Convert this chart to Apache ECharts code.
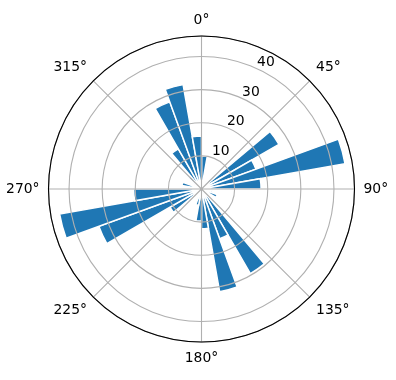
<!DOCTYPE html>
<html><head><meta charset="utf-8">
<script src="https://cdn.jsdelivr.net/npm/echarts@6/dist/echarts.min.js"></script>
<style>html,body{margin:0;padding:0;background:#fff}#c{width:396px;height:380px}</style>
</head><body><div id="c"></div>
<script>
// 36 direction sectors, 10 degrees each, clockwise from north
const sectors = ['0-10','10-20','20-30','30-40','40-50','50-60','60-70','70-80','80-90',
  '90-100','100-110','110-120','120-130','130-140','140-150','150-160','160-170','170-180',
  '180-190','190-200','200-210','210-220','220-230','230-240','240-250','250-260','260-270',
  '270-280','280-290','290-300','300-310','310-320','320-330','330-340','340-350','350-360'];
const values = [10, 2, 2.5, 2, 4, 27, 17.5, 44, 18,
  1, 3.5, 5, 2, 3, 29.5, 16, 31.5, 12,
  9.7, 5, 3, 2, 3, 11, 33, 43.5, 20.5,
  2, 6, 2, 3, 5, 14, 28, 32, 16];
const angleTicks = [0, 45, 90, 135, 180, 225, 270, 315];
const radialTicks = [10, 20, 30, 40];
const rMax = 46.2;
const labelShift = 2.86;

const font = 'DejaVu Sans';
const center = [201.5, 189];
const R = 153;
const chart = echarts.init(document.getElementById('c'), null, {renderer: 'canvas'});
chart.setOption({
  animation: false,
  polar: [
    {center: center, radius: R},
    {center: center, radius: R},
    {center: center, radius: R}
  ],
  angleAxis: [
    {polarIndex: 0, type: 'category', data: sectors, startAngle: 90, clockwise: true,
     axisLine: {show: false}, axisTick: {show: false}, axisLabel: {show: false}, splitLine: {show: false}},
    {polarIndex: 1, type: 'value', min: 0, max: 360, interval: 45, startAngle: 90, clockwise: true, z: 10,
     axisLine: {show: false}, axisTick: {show: false},
     axisLabel: {margin: 9, align: 'center', verticalAlign: 'middle', color: '#000', fontSize: 13.9, fontFamily: font,
       formatter: v => angleTicks.includes(v) ? v + '°' : ''},
     splitLine: {lineStyle: {color: '#b0b0b0', width: 1.1}}},
    {polarIndex: 2, type: 'value', min: 0, max: 360, startAngle: 63, clockwise: true, z: 11,
     axisLine: {show: true, lineStyle: {color: '#000', width: 1.1}}, axisTick: {show: false},
     axisLabel: {show: false}, splitLine: {show: false}}
  ],
  radiusAxis: [
    {polarIndex: 0, type: 'value', min: 0, max: rMax,
     axisLine: {show: false}, axisTick: {show: false}, axisLabel: {show: false}, splitLine: {show: false}},
    {polarIndex: 1, type: 'value', min: 0, max: rMax, interval: 10, z: 10,
     axisLine: {show: false}, axisTick: {show: false}, axisLabel: {show: false},
     splitLine: {lineStyle: {color: '#b0b0b0', width: 1.1}}},
    {polarIndex: 2, type: 'value', min: -labelShift, max: rMax - labelShift, z: 12,
     axisLine: {show: false}, axisTick: {show: false}, splitLine: {show: false},
     axisLabel: {margin: 0, align: 'center', verticalAlign: 'middle', color: '#000', fontSize: 13.9, fontFamily: font,
       formatter: v => radialTicks.includes(Math.round(v * 1000) / 1000) ? String(v) : ''}}
  ],
  series: [{
    type: 'bar', coordinateSystem: 'polar', polarIndex: 0, z: 1,
    data: values, barCategoryGap: '0%',
    itemStyle: {color: '#1f77b4', borderColor: '#fff', borderWidth: 1.5}
  }]
});
</script></body></html>
